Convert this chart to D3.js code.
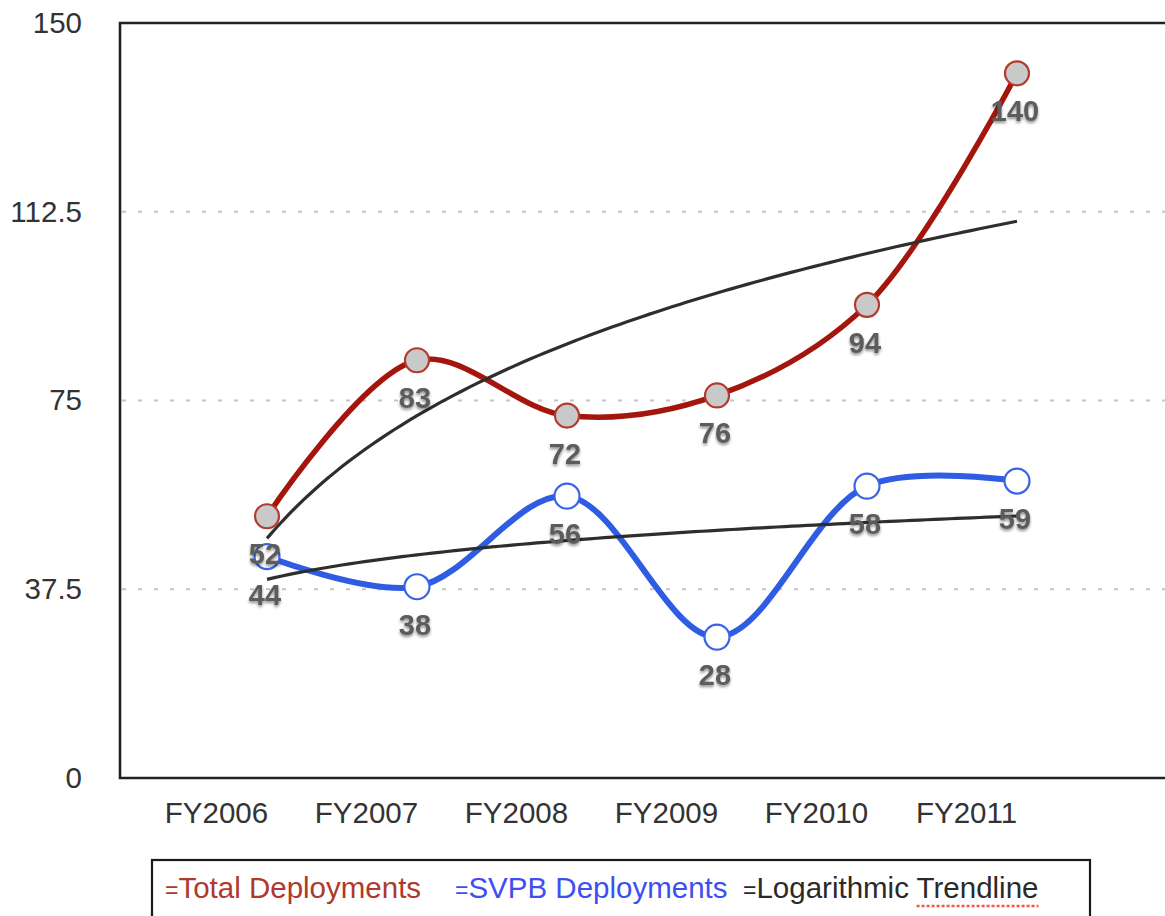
<!DOCTYPE html>
<html>
<head>
<meta charset="utf-8">
<script src="https://cdn.jsdelivr.net/npm/d3@7"></script>
<style>
  html, body { margin: 0; padding: 0; background: #fff; }
  svg { display: block; font-family: "Liberation Sans", Arial, Helvetica, sans-serif; }
</style>
</head>
<body>
<svg id="chart" width="1165" height="916"></svg>
<script>
// Deployment counts by fiscal year
const categories = ["FY2006", "FY2007", "FY2008", "FY2009", "FY2010", "FY2011"];
const totalDeployments = [52, 83, 72, 76, 94, 140];
const svpbDeployments = [44, 38, 56, 28, 58, 59];
const yTicks = [0, 37.5, 75, 112.5, 150];
const gridTicks = [37.5, 75, 112.5];
const legendItems = [
  { label: "Total Deployments", color: "#b0382c" },
  { label: "SVPB Deployments", color: "#3d4ef2" },
  { label: "Logarithmic Trendline", color: "#2a2a2a" }
];

const svg = d3.select("#chart");
const plotLeft = 120, plotRight = 1165, plotTop = 23, plotBottom = 778;

const x = d3.scalePoint().domain(categories).range([267, 1017]);
const y = d3.scaleLinear().domain([0, 150]).range([plotBottom, plotTop]);

// soft shadow used by the value labels
const defs = svg.append("defs");
const shadow = defs.append("filter").attr("id", "lblShadow")
  .attr("x", "-30%").attr("y", "-30%").attr("width", "160%").attr("height", "160%");
shadow.append("feGaussianBlur").attr("in", "SourceAlpha").attr("stdDeviation", 1.6).attr("result", "b");
shadow.append("feOffset").attr("in", "b").attr("dx", 0).attr("dy", 2).attr("result", "o");
shadow.append("feComponentTransfer").attr("in", "o").attr("result", "s")
  .append("feFuncA").attr("type", "linear").attr("slope", 0.45);
const merge = shadow.append("feMerge");
merge.append("feMergeNode").attr("in", "s");
merge.append("feMergeNode").attr("in", "SourceGraphic");
const soft = defs.append("filter").attr("id", "soft");
soft.append("feGaussianBlur").attr("stdDeviation", 0.5);

// dotted horizontal gridlines
svg.append("g").selectAll("line").data(gridTicks).join("line")
  .attr("x1", plotLeft + 2).attr("x2", plotRight)
  .attr("y1", d => y(d)).attr("y2", d => y(d))
  .attr("stroke", "#c4c4c4").attr("stroke-width", 2)
  .attr("stroke-dasharray", "4,12");

// plot frame (left, top, bottom)
svg.append("path")
  .attr("d", `M${plotRight},${plotTop}H${plotLeft}V${plotBottom}H${plotRight}`)
  .attr("fill", "none").attr("stroke", "#222").attr("stroke-width", 2.6);

// y axis labels
const yAxis = svg.append("g").attr("transform", `translate(${plotLeft},0)`)
  .call(d3.axisLeft(y).tickValues(yTicks).tickSize(0).tickPadding(38).tickFormat(d => String(d)));
yAxis.select(".domain").remove();
yAxis.selectAll("text").attr("font-size", 29.5).attr("fill", "#333")
  .attr("font-family", "Liberation Sans, Arial, sans-serif");

// x axis labels (sit to the left of each data column)
const xAxis = svg.append("g").attr("transform", `translate(-51,${plotBottom})`)
  .call(d3.axisBottom(x).tickSize(0).tickPadding(24));
xAxis.select(".domain").remove();
xAxis.selectAll("text").attr("font-size", 29.5).attr("fill", "#333")
  .attr("font-family", "Liberation Sans, Arial, sans-serif");

// logarithmic trendlines: least-squares fit of y = a + b*ln(i)
function logFit(values) {
  const lx = values.map((_, i) => Math.log(i + 1));
  const mx = d3.mean(lx), my = d3.mean(values);
  const b = d3.sum(lx, (v, i) => (v - mx) * (values[i] - my)) / d3.sum(lx, v => (v - mx) ** 2);
  const a = my - b * mx;
  return { a, b };
}
const xi = d3.scaleLinear().domain([1, categories.length]).range(x.range());
function trendPoints(values) {
  const f = logFit(values);
  return d3.range(1, categories.length + 0.001, 0.05).map(t => [xi(t), y(f.a + f.b * Math.log(t))]);
}

const smooth = d3.line().x((d, i) => x(categories[i])).y(d => y(d)).curve(d3.curveCatmullRom.alpha(0.5));
const straight = d3.line();

// Total series line
svg.append("path").datum(totalDeployments).attr("d", smooth)
  .attr("fill", "none").attr("stroke", "#a4190b").attr("stroke-width", 5.5)
  .attr("stroke-linecap", "round").attr("filter", "url(#soft)");
// SVPB series line
svg.append("path").datum(svpbDeployments).attr("d", smooth)
  .attr("fill", "none").attr("stroke", "#2f5ce2").attr("stroke-width", 6)
  .attr("stroke-linecap", "round").attr("filter", "url(#soft)");

// trendlines
[totalDeployments, svpbDeployments].forEach(vals => {
  svg.append("path").attr("d", straight(trendPoints(vals)))
    .attr("fill", "none").attr("stroke", "#2e2e2e").attr("stroke-width", 3.2)
    .attr("filter", "url(#soft)");
});

// markers
svg.append("g").selectAll("circle").data(totalDeployments).join("circle")
  .attr("cx", (d, i) => x(categories[i])).attr("cy", d => y(d)).attr("r", 12)
  .attr("fill", "#c9c9c9").attr("stroke", "#b23a2e").attr("stroke-width", 2.2);
svg.append("g").selectAll("circle").data(svpbDeployments).join("circle")
  .attr("cx", (d, i) => x(categories[i])).attr("cy", d => y(d)).attr("r", 12.5)
  .attr("fill", "#fff").attr("stroke", "#3a63ea").attr("stroke-width", 2.2);

// value labels below each marker
function valueLabels(values) {
  svg.append("g").selectAll("text").data(values).join("text")
    .attr("x", (d, i) => x(categories[i]) - 2).attr("y", d => y(d) + 48)
    .attr("text-anchor", "middle").attr("font-size", 29).attr("font-weight", "bold")
    .attr("fill", "#5c5c5c").attr("filter", "url(#lblShadow)")
    .text(d => d);
}
valueLabels(totalDeployments);
valueLabels(svpbDeployments);

// legend
svg.append("rect").attr("x", 152).attr("y", 860).attr("width", 938).attr("height", 90)
  .attr("fill", "#fff").attr("stroke", "#1a1a1a").attr("stroke-width", 2.2);
const legendX = [165, 455, 743];
let lastLegend = null;
legendItems.forEach((it, i) => {
  const t = svg.append("text").attr("x", legendX[i]).attr("y", 898)
    .attr("font-size", 29.5).attr("fill", it.color);
  t.append("tspan").attr("font-size", 23).text("=");
  t.append("tspan").text(it.label);
  lastLegend = t;
});
// dotted underline beneath the last legend word
const node = lastLegend.node();
const bb = node.getBBox();
const full = node.textContent;
const wordStart = full.indexOf("Trendline");
const wordW = node.getSubStringLength(wordStart, full.length - wordStart);
svg.append("line")
  .attr("x1", bb.x + bb.width - wordW).attr("x2", bb.x + bb.width)
  .attr("y1", 906).attr("y2", 906)
  .attr("stroke", "#f05a4a").attr("stroke-width", 2.5).attr("stroke-dasharray", "3,2");
</script>
</body>
</html>
